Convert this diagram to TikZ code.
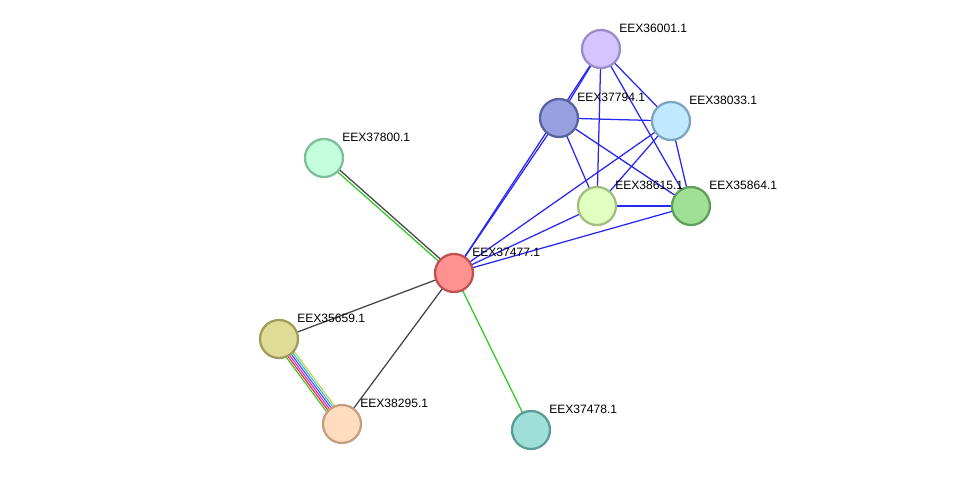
\documentclass[tikz,border=0pt]{standalone}
\usepackage{fontspec}
\setmainfont{Liberation Sans}
\usetikzlibrary{calc,backgrounds}

\definecolor{edgeblue}{RGB}{40,40,245}
\definecolor{edgegray}{RGB}{70,70,70}
\definecolor{edgegreen}{RGB}{50,200,40}
\definecolor{chred}{RGB}{240,40,40}
\definecolor{chmag}{RGB}{220,40,220}
\definecolor{chblue}{RGB}{60,90,255}
\definecolor{chcyan}{RGB}{60,180,230}
\definecolor{chyel}{RGB}{190,210,60}

\tikzset{
  prot/.style={circle, minimum size=0.95cm, inner sep=0pt, line width=1.6pt},
  lbl/.style={anchor=west, inner sep=0pt, font=\fontsize{8.6}{10}\selectfont},
  blu/.style={edgeblue, line width=0.9pt},
  gry/.style={edgegray, line width=0.9pt},
  grn/.style={edgegreen, line width=0.9pt}
}

\begin{document}
\begin{tikzpicture}[x=0.025cm,y=-0.025cm]
    \useasboundingbox (0,0) rectangle (975,476);
    % proteins
    \node[prot, fill={rgb,255:red,255;green,145;blue,145}, draw={rgb,255:red,190;green,80;blue,80}] (n37477) at (454,273) {};
    \node[prot, fill={rgb,255:red,195;green,255;blue,220}, draw={rgb,255:red,125;green,190;blue,155}] (n37800) at (324,158) {};
    \node[prot, fill={rgb,255:red,222;green,220;blue,150}, draw={rgb,255:red,160;green,155;blue,90}] (n35659) at (279,339) {};
    \node[prot, fill={rgb,255:red,255;green,220;blue,192}, draw={rgb,255:red,195;green,160;blue,125}] (n38295) at (342,424) {};
    \node[prot, fill={rgb,255:red,158;green,224;blue,216}, draw={rgb,255:red,90;green,155;blue,148}] (n37478) at (531,430) {};
    \node[prot, fill={rgb,255:red,212;green,196;blue,255}, draw={rgb,255:red,155;green,140;blue,200}] (n36001) at (601,49) {};
    \node[prot, fill={rgb,255:red,152;green,160;blue,224}, draw={rgb,255:red,88;green,98;blue,158}] (n37794) at (559,118) {};
    \node[prot, fill={rgb,255:red,192;green,232;blue,255}, draw={rgb,255:red,125;green,165;blue,190}] (n38033) at (671,121) {};
    \node[prot, fill={rgb,255:red,224;green,255;blue,192}, draw={rgb,255:red,160;green,190;blue,125}] (n38615) at (597,206) {};
    \node[prot, fill={rgb,255:red,160;green,224;blue,150}, draw={rgb,255:red,95;green,160;blue,88}] (n35864) at (691,206) {};
    % labels, up and right of each protein
    \node[lbl] (l37477) at ([shift={(18,-21)}]n37477.center) {EEX37477.1};
    \node[lbl] (l37800) at ([shift={(18,-21)}]n37800.center) {EEX37800.1};
    \node[lbl] (l35659) at ([shift={(18,-21)}]n35659.center) {EEX35659.1};
    \node[lbl] (l38295) at ([shift={(18,-21)}]n38295.center) {EEX38295.1};
    \node[lbl] (l37478) at ([shift={(18,-21)}]n37478.center) {EEX37478.1};
    \node[lbl] (l36001) at ([shift={(18,-21)}]n36001.center) {EEX36001.1};
    \node[lbl] (l37794) at ([shift={(18,-21)}]n37794.center) {EEX37794.1};
    \node[lbl] (l38033) at ([shift={(18,-21)}]n38033.center) {EEX38033.1};
    \node[lbl] (l38615) at ([shift={(18,-21)}]n38615.center) {EEX38615.1};
    \node[lbl] (l35864) at ([shift={(18,-21)}]n35864.center) {EEX35864.1};
    % interactions, behind the proteins
    \begin{scope}[on background layer]
      \foreach \a/\b in {37477/36001, 37477/37794, 37477/38033, 37477/38615, 37477/35864,
                         36001/37794, 36001/38033, 36001/38615, 36001/35864,
                         37794/38033, 37794/38615, 37794/35864,
                         38033/38615, 38033/35864, 38615/35864}
        \draw[blu] (n\a.center) -- (n\b.center);
      \draw[gry] (n37477.center) -- (n35659.center);
      \draw[gry] (n37477.center) -- (n38295.center);
      \draw[grn] (n37477.center) -- (n37478.center);
      % two channels to EEX37800.1
      \draw[gry] ($(n37800)!1pt!90:(n37477)$) -- ($(n37477)!1pt!-90:(n37800)$);
      \draw[grn] ($(n37800)!-1pt!90:(n37477)$) -- ($(n37477)!-1pt!-90:(n37800)$);
      % six channels between EEX35659.1 and EEX38295.1
      \foreach \o/\c in {-3.6pt/edgegreen, -2.2pt/chred, -0.8pt/chmag,
                         0.6pt/chblue, 2pt/chcyan, 3.4pt/chyel}
        \draw[\c, line width=0.8pt] ($(n35659)!\o!90:(n38295)$) -- ($(n38295)!\o!-90:(n35659)$);
    \end{scope}
\end{tikzpicture}
\end{document}
